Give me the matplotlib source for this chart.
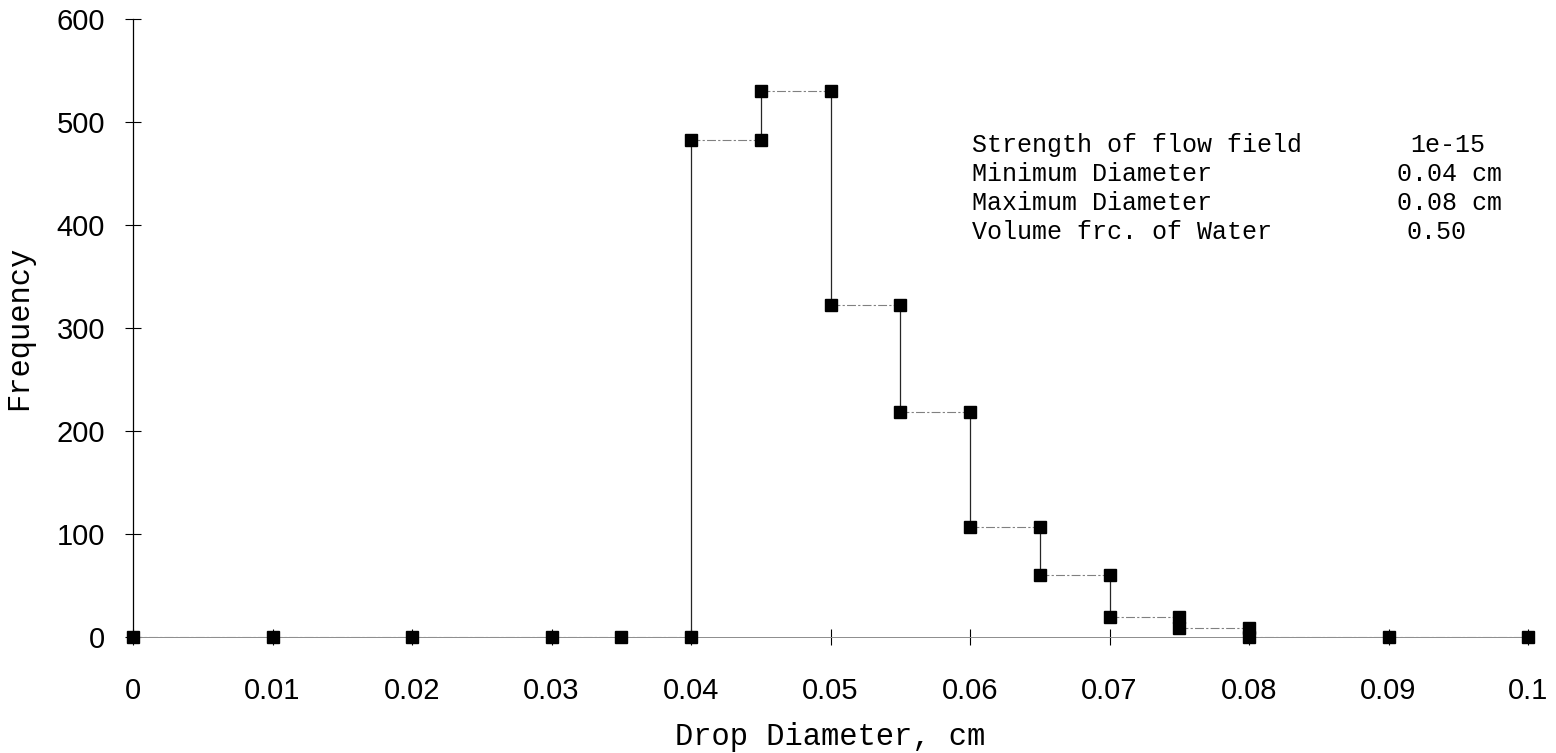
import matplotlib
matplotlib.use("Agg")
import matplotlib.pyplot as plt

# drop size distribution (step form, each bin edge appears twice)
diameter = [0, 0.01, 0.02, 0.03, 0.035, 0.04, 0.04, 0.045, 0.045, 0.05, 0.05,
            0.055, 0.055, 0.06, 0.06, 0.065, 0.065, 0.07, 0.07, 0.075, 0.075,
            0.08, 0.08, 0.09, 0.1]
frequency = [0, 0, 0, 0, 0, 0, 483, 483, 530, 530, 322,
             322, 218, 218, 107, 107, 60, 60, 19, 19, 9,
             9, 0, 0, 0]

xticks = [0, 0.01, 0.02, 0.03, 0.04, 0.05, 0.06, 0.07, 0.08, 0.09, 0.1]
xticklabels = ["0", "0.01", "0.02", "0.03", "0.04", "0.05", "0.06", "0.07", "0.08", "0.09", "0.1"]
yticks = [0, 100, 200, 300, 400, 500, 600]

info_names = ["Strength of flow field", "Minimum Diameter", "Maximum Diameter", "Volume frc. of Water"]
info_values = ["1e-15", "0.04 cm", "0.08 cm", "0.50"]
value_x = [1410, 1397, 1397, 1406]   # pixel column where each value starts

mono = "Liberation Mono"
sans = "Liberation Sans"
W, H = 1556, 753

fig = plt.figure(figsize=(15.56, 7.53), dpi=100)
ax = fig.add_axes([133 / W, 1 - 637 / H, (1528 - 133) / W, (637 - 19) / H])

# vertical jumps drawn darker, horizontal runs faint like the scan
for i in range(len(diameter) - 1):
    xs = diameter[i:i + 2]
    ys = frequency[i:i + 2]
    if xs[0] == xs[1]:
        ax.plot(xs, ys, color="0.15", lw=0.9, zorder=2)
    else:
        ax.plot(xs, ys, color="0.5", lw=0.8, ls=(0, (8, 2, 2, 2)), zorder=2)

ax.plot(diameter, frequency, ls="none", marker="s", markersize=8,
        markerfacecolor="black", markeredgecolor="black", clip_on=False, zorder=3)

ax.set_xlim(0, 0.1)
ax.set_ylim(0, 600)
ax.set_xticks(xticks)
ax.set_xticklabels(xticklabels)
ax.set_yticks(yticks)

for s in ["top", "right"]:
    ax.spines[s].set_visible(False)
ax.spines["left"].set_linewidth(0.9)
ax.spines["bottom"].set_linewidth(0.7)
ax.spines["bottom"].set_color("0.55")

ax.tick_params(axis="both", direction="inout", length=12, width=0.8, labelsize=21)
ax.tick_params(axis="x", pad=23)
ax.tick_params(axis="y", pad=14)
for lab in ax.get_xticklabels() + ax.get_yticklabels():
    lab.set_fontfamily(sans)

ax.set_xlabel("Drop Diameter, cm", fontfamily=mono, fontsize=22, labelpad=12)
ax.set_ylabel("Frequency", fontfamily=mono, fontsize=22, labelpad=16)

for i, (name, val, vx) in enumerate(zip(info_names, info_values, value_x)):
    y = 1 - (145 + i * 29) / H
    fig.text(972 / W, y, name, fontfamily=mono, fontsize=18, va="center", ha="left")
    fig.text(vx / W, y, val, fontfamily=mono, fontsize=18, va="center", ha="left")

fig.savefig("out.png", dpi=100)
